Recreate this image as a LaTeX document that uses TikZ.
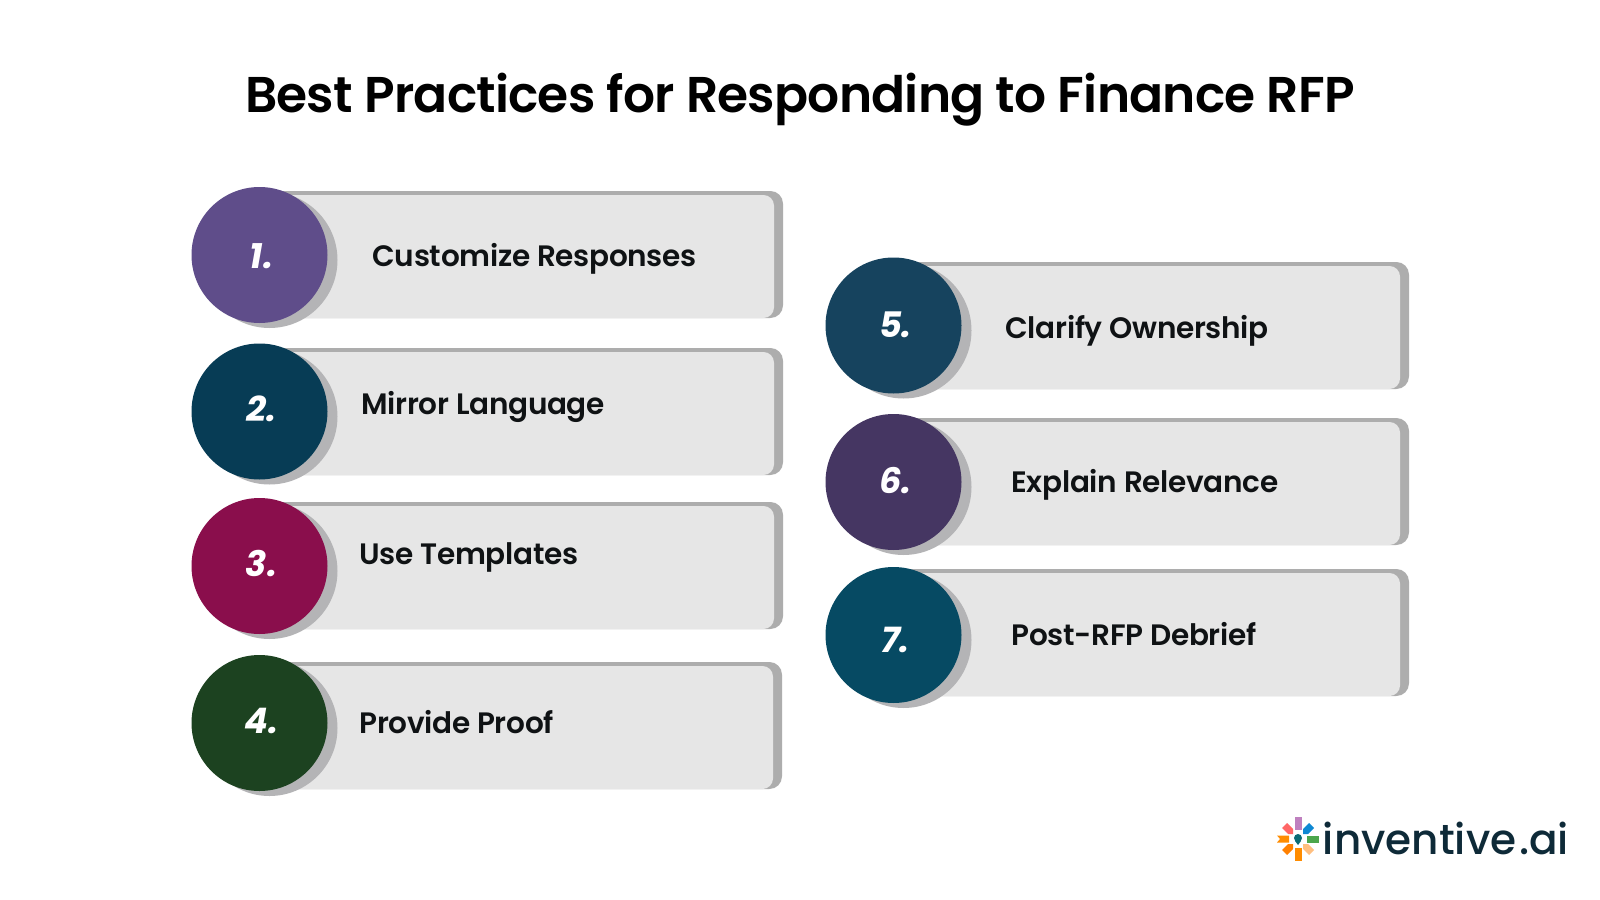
\documentclass[tikz,border=0pt]{standalone}
\usepackage{fontspec}
\setmainfont{Poppins}
\newfontfamily\labelfont[LetterSpace=-1]{Poppins SemiBold}
\newfontfamily\logofont{Poppins Medium}
\newfontfamily\titlefont[LetterSpace=-1.5]{Poppins SemiBold}
\usetikzlibrary{calc}

\definecolor{barfill}{HTML}{E6E6E6}
\definecolor{barshade}{HTML}{ADADAD}
\definecolor{circshade}{HTML}{B4B4B6}
\definecolor{inkdark}{HTML}{0F1214}
\definecolor{logoink}{HTML}{0E2A38}

\tikzset{
  px/.style={x=0.05cm,y=-0.05cm},
  barback/.style={fill=barshade,draw=none,rounded corners=18pt},
  barfront/.style={fill=barfill,draw=none,rounded corners=15pt},
  numdisc/.style={circle,minimum size=6.8cm,inner sep=0pt,draw=none},
  numtext/.style={text=white,font=\fontsize{50}{50}\selectfont\bfseries\itshape},
  bartext/.style={text=inkdark,anchor=west,font=\fontsize{42}{46}\labelfont},
  logopetal/.style={draw=none}
}

% one row: x of disc, y of disc, top of bar, right end of bar, colour, number, shift of number
\newcommand{\rowbar}[7]{
  \fill[barback] (#1,#3) rectangle (#4,#3+127);
  \fill[barfront] (#1,#3+4) rectangle (#4-9,#3+127);
  \fill[circshade] (#1+10,#2+5) circle (3.4cm);
  \node[numdisc,fill=#5] (disc#6) at (#1,#2) {};
  \node[numtext] (num#6) at (#1+2,#2+#7) {#6.};
}

\begin{document}
\begin{tikzpicture}[px]
  \useasboundingbox (0,0) rectangle (1600,900);
  \fill[white] (0,0) rectangle (1600,900);

  \node[font=\fontsize{71.5}{74}\titlefont,text=black] (title) at (800,100) {Best Practices for Responding to Finance RFP};

  \definecolor{disca}{HTML}{5F4D8A}
  \definecolor{discb}{HTML}{073C55}
  \definecolor{discc}{HTML}{8A0E4C}
  \definecolor{discd}{HTML}{1C4220}
  \definecolor{disce}{HTML}{16435E}
  \definecolor{discf}{HTML}{453662}
  \definecolor{discg}{HTML}{064A63}

  % left column
  \rowbar{259.5}{255}{191}{783}{disca}{1}{1}
  \rowbar{259.5}{411.5}{348}{783}{discb}{2}{-3}
  \rowbar{259.5}{566}{502}{783}{discc}{3}{-2}
  \rowbar{259.5}{723}{662}{782}{discd}{4}{-2}
  % right column
  \rowbar{893.5}{325.5}{262}{1409}{disce}{5}{-1}
  \rowbar{893.5}{482}{418}{1409}{discf}{6}{-1}
  \rowbar{893.5}{635}{569}{1409}{discg}{7}{5}

  \node[bartext] (lab1) at (370,258.5) {Customize Responses};
  \node[bartext] (lab2) at (359,406.5) {Mirror Language};
  \node[bartext] (lab3) at (357,557.5) {Use Templates};
  \node[bartext] (lab4) at (357,722) {Provide Proof};
  \node[bartext] (lab5) at (1003,330.5) {Clarify Ownership};
  \node[bartext] (lab6) at (1009,484.5) {Explain Relevance};
  \node[bartext] (lab7) at (1009,634) {Post-RFP Debrief};

  % logo
  \begin{scope}[shift={(1298,839)}]
    \fill[logopetal,fill=orange!90!yellow] (-21,-3.5) -- (-9,-3.5) -- (-9,3.5) -- (-21,3.5) -- (-18,0) -- cycle;
    \fill[logopetal,fill=green!50!black!70] (9,-3.5) rectangle (21,3.5);
    \fill[logopetal,fill=violet!50] (-3.5,-22) rectangle (3.5,-9);
    \fill[logopetal,fill=orange!90!yellow] (-3.5,9) rectangle (3.5,22);
    \fill[logopetal,fill=red!60] (-16,-11) -- (-11,-16) -- (-5,-10) -- (-5,-5) -- (-10,-5) -- cycle;
    \fill[logopetal,fill=cyan!70!blue] (16,-11) -- (11,-16) -- (5,-10) -- (5,-5) -- (10,-5) -- cycle;
    \fill[logopetal,fill=orange] (-16,11) -- (-11,16) -- (-5,10) -- (-5,5) -- (-10,5) -- cycle;
    \fill[logopetal,fill=orange!50] (16,11) -- (11,16) -- (5,10) -- (5,5) -- (10,5) -- cycle;
    \fill[logoink!70!cyan] (0,-1) circle (0.2cm);
    \fill[logoink!70!cyan] (-3,2) -- (0,6) -- (3,2) -- cycle;
  \end{scope}
  \node[anchor=west,text=logoink,font=\fontsize{60}{62}\logofont] (logo) at (1320.5,838) {inventive\kern4pt.ai};
\end{tikzpicture}
\end{document}
